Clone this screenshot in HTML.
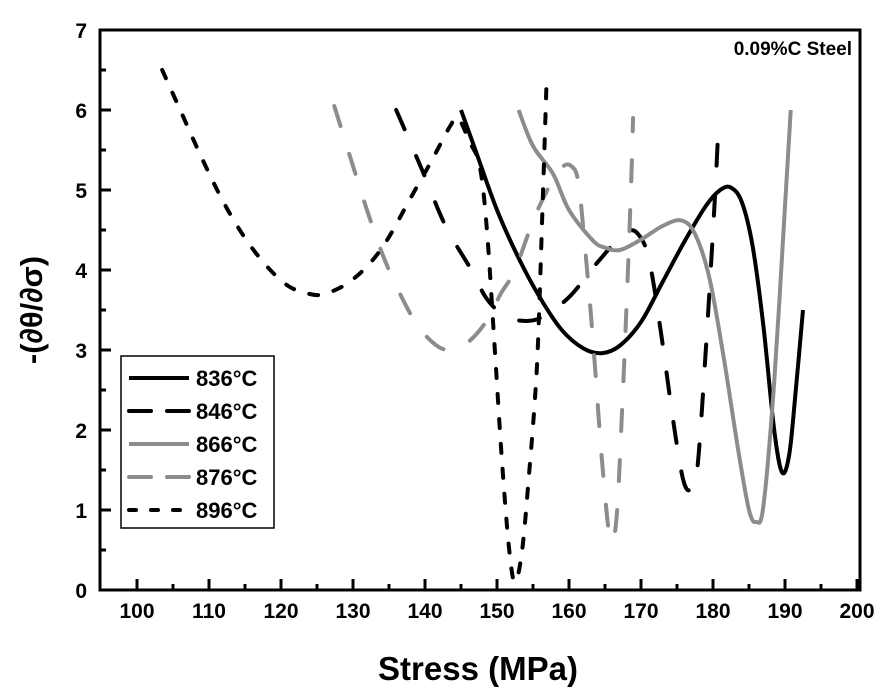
<!DOCTYPE html>
<html><head><meta charset="utf-8"><style>
body{margin:0;background:#fff}
svg{display:block;font-family:"Liberation Sans",Arial,sans-serif}
</style></head><body>
<svg id="chart" width="883" height="700">
<g id="axes"></g><g id="series"></g>
<text x="852" y="55" text-anchor="end" font-size="19" font-weight="bold">0.09%C Steel</text>
<text x="478" y="680" text-anchor="middle" font-size="33" font-weight="bold">Stress (MPa)</text>
<text transform="translate(42,310) rotate(-90)" text-anchor="middle" font-size="31" font-weight="bold">-(∂θ/∂σ)</text>
<g id="legend"></g>
</svg>
<script>
const xTicks=[100,110,120,130,140,150,160,170,180,190,200];
const yTicks=[0,1,2,3,4,5,6,7];
const seriesNames=["836°C","846°C","866°C","876°C","896°C"];
const s836=[[145,6.0],[147,5.5],[150,4.75],[153,4.15],[156,3.65],[159,3.25],[162,3.02],[164.5,2.96],[167,3.05],[170,3.35],[173,3.85],[176,4.35],[179,4.8],[181,5.0],[182.5,5.03],[184,4.85],[185.5,4.3],[187,3.3],[188.5,2.0],[189.6,1.47],[190.6,1.7],[191.5,2.5],[192.5,3.5]];
const s846=[[136,6.0],[139.6,5.25],[142.8,4.56],[146.3,4.02],[148.5,3.65],[150.7,3.45],[153,3.37],[156,3.4],[160,3.66],[164,4.1],[168,4.48],[170,4.4],[171.3,4.05],[172.8,3.2],[174.5,2.1],[175.8,1.4],[176.8,1.25],[177.8,1.5],[179,3.0],[180.2,4.8],[180.7,5.7]];
const s866=[[153,6.0],[155,5.55],[157.8,5.2],[160,4.75],[163.3,4.37],[165,4.28],[167.1,4.25],[170,4.38],[173,4.55],[175.6,4.62],[177.5,4.45],[179.5,3.9],[181.5,2.9],[183.5,1.75],[185,1.0],[186,0.85],[187,1.05],[188.5,2.6],[190,4.8],[190.8,6.0]];
const s876=[[127.4,6.05],[130,5.3],[132.5,4.6],[134.9,4.02],[138.3,3.4],[141,3.1],[143.3,3.0],[146,3.1],[148.6,3.37],[150.5,3.7],[152.5,4.0],[154.9,4.59],[157,5.0],[159,5.28],[160.3,5.3],[161.3,5.1],[162.2,4.3],[162.9,3.6],[163.6,2.8],[164.6,1.6],[165.7,0.65],[166.6,0.9],[167.4,2.3],[168.1,3.8],[168.6,5.0],[168.9,5.9]];
const s896=[[103.5,6.5],[106,6.0],[109,5.4],[112,4.85],[115,4.4],[118,4.05],[121,3.8],[124,3.7],[126,3.7],[129,3.82],[132,4.05],[134.7,4.37],[138,4.9],[141,5.38],[143.5,5.8],[144.6,5.9],[146.2,5.6],[147.6,5.3],[148.6,4.5],[149.7,3.0],[150.7,1.6],[151.7,0.5],[152.5,0.1],[153.5,0.5],[154.5,1.5],[155.2,2.3],[155.7,3.1],[156.4,5.0],[156.9,6.4]];
const NS="http://www.w3.org/2000/svg";
const X0=100,X1=860,Y0=590,Y1=30;
const xs=v=>137+(v-100)*7.2;
const ys=v=>590-v*80;
function mk(t,a,p){const e=document.createElementNS(NS,t);for(const k in a)e.setAttribute(k,a[k]);(p||document.getElementById('chart')).appendChild(e);return e;}
const ax=document.getElementById('axes');
const frame=mk('rect',{x:X0,y:Y1,width:X1-X0,height:Y0-Y1,fill:'none',stroke:'#000','stroke-width':3},ax);


xTicks.forEach(v=>{const x=xs(v);
 const t=mk('line',{x1:x,x2:x,y1:Y0,y2:Y0-11,stroke:'#000','stroke-width':3},ax);
 
 
 if(v<200){const m=mk('line',{x1:x+36,x2:x+36,y1:Y0,y2:Y0-6,stroke:'#000','stroke-width':3},ax);
 
 }
 const l=mk('text',{x:x,y:618,'text-anchor':'middle','font-size':21,'font-weight':'bold'},ax);l.textContent=v;
 
 });
yTicks.forEach(v=>{const y=ys(v);
 const t=mk('line',{x1:X0,x2:X0+11,y1:y,y2:y,stroke:'#000','stroke-width':3},ax);
 
 
 if(v<7){const m=mk('line',{x1:X0,x2:X0+6,y1:y-40,y2:y-40,stroke:'#000','stroke-width':3},ax);
 
 }
 const l=mk('text',{x:87,y:y+8,'text-anchor':'end','font-size':21,'font-weight':'bold'},ax);l.textContent=v;
 
 });
function path(pts){const p=pts.map(d=>[xs(d[0]),ys(d[1])]);let s=`M${p[0][0]},${p[0][1]}`;
 for(let i=0;i<p.length-1;i++){const a=p[Math.max(0,i-1)],b=p[i],c=p[i+1],d=p[Math.min(p.length-1,i+2)];
 const c1=[b[0]+(c[0]-a[0])/6,b[1]+(c[1]-a[1])/6],c2=[c[0]-(d[0]-b[0])/6,c[1]-(d[1]-b[1])/6];
 s+=`C${c1[0]},${c1[1]} ${c2[0]},${c2[1]} ${c[0]},${c[1]}`;}return s;}
const styles=[{c:'#000',d:''},{c:'#000',d:'21 29'},{c:'#8c8c8c',d:''},{c:'#8c8c8c',d:'21 29'},{c:'#000',d:'9 16'}];
const data=[s836,s846,s866,s876,s896];
const sg=document.getElementById('series');
data.forEach((s,i)=>{const st=styles[i];
 const e=mk('path',{d:path(s),fill:'none',stroke:st.c,'stroke-width':4,'stroke-dasharray':st.d,'stroke-linecap':st.d?'round':'butt'},sg);
 
 });
const lg=document.getElementById('legend');
const box=mk('rect',{x:121,y:356,width:153,height:172,fill:'#fff',stroke:'#000','stroke-width':1.5},lg);


seriesNames.forEach((n,i)=>{const y=378+i*33,st=styles[i];
 const l=mk('line',{x1:129,x2:189,y1:y,y2:y,stroke:st.c,'stroke-width':4,'stroke-dasharray':i==1||i==3?'22 16 22':(i==4?'7 15':''),'stroke-linecap':i==0||i==2?'butt':'round'},lg);
 
 
 const t=mk('text',{x:196,y:y+8,'font-size':22,'font-weight':'bold'},lg);t.textContent=n;
 
 });
</script>
</body></html>
